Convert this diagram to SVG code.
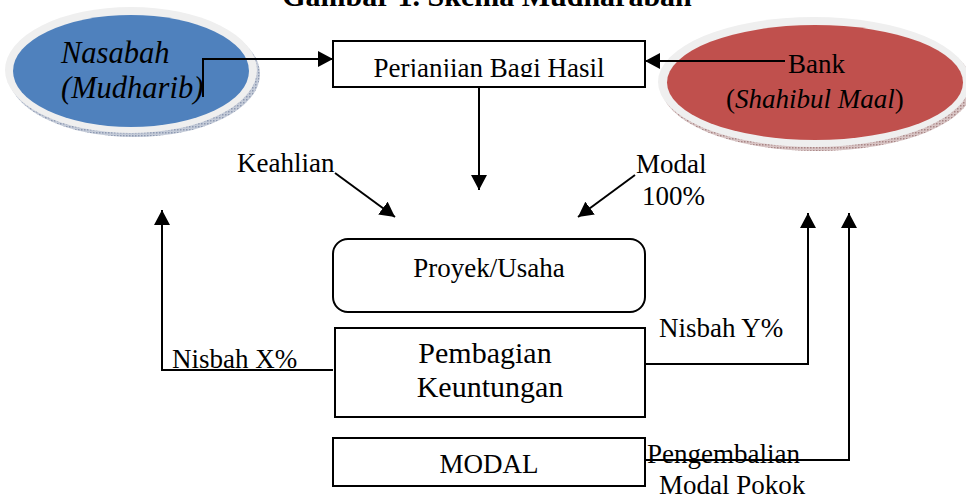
<svg xmlns="http://www.w3.org/2000/svg" width="966" height="498" viewBox="0 0 966 498">
<style>
text{font-family:"Liberation Serif","Times New Roman",serif;fill:#000;}
.t{font-size:27px;}
.i{font-style:italic;}
.box{fill:#fff;stroke:#000;stroke-width:2;}
.ln{fill:none;stroke:#000;stroke-width:2;}
</style>
<defs>
<marker id="ah" markerUnits="userSpaceOnUse" markerWidth="16" markerHeight="16" refX="15" refY="8" orient="auto">
<path d="M0,0 L15,8 L0,16 Z" fill="#000"/>
</marker>
<clipPath id="clipP"><rect x="334" y="42" width="310" height="35"/></clipPath>
<pattern id="shB" width="3" height="3" patternUnits="userSpaceOnUse"><rect width="3" height="3" fill="#c4cbd8"/><rect width="1.5" height="1.5" fill="#8e9ab2"/></pattern>
<pattern id="shR" width="3" height="3" patternUnits="userSpaceOnUse"><rect width="3" height="3" fill="#d8c4c4"/><rect width="1.5" height="1.5" fill="#a88686"/></pattern>
</defs>
<rect width="966" height="498" fill="#fff"/>
<text x="487" y="6" font-size="30" font-weight="bold" text-anchor="middle">Gambar 1. Skema Mudharabah</text>

<g id="nasabah">
<ellipse cx="134" cy="74" rx="126" ry="63" fill="url(#shB)"/>
<ellipse cx="131" cy="70" rx="126" ry="63" fill="#efefef"/>
<ellipse cx="131" cy="71" rx="118" ry="56" fill="#4f81bd"/>
<text class="i" x="61" y="63" font-size="30.5">Nasabah</text>
<text class="i" x="61" y="98" font-size="30.5">(Mudharib)</text>
</g>

<g id="bank">
<ellipse cx="817" cy="86" rx="156" ry="65" fill="url(#shR)"/>
<ellipse cx="814" cy="82" rx="156" ry="65" fill="#efefef"/>
<ellipse cx="815" cy="82.5" rx="148" ry="57.5" fill="#c0504d"/>
<text class="t" x="788" y="73">Bank</text>
<text class="t" x="726" y="108">(<tspan class="i">Shahibul Maal</tspan>)</text>
</g>

<g id="perjanjian">
<rect class="box" x="333" y="41" width="312" height="46"/>
<text class="t" x="489" y="77" text-anchor="middle" clip-path="url(#clipP)">Perjanjian Bagi Hasil</text>
</g>

<g id="keahlian"><text class="t" x="237" y="172">Keahlian</text></g>
<g id="modal100">
<text class="t" x="636" y="173">Modal</text>
<text class="t" x="642" y="205">100%</text>
</g>

<g id="proyek">
<rect class="box" x="333" y="239" width="312" height="73" rx="15"/>
<text class="t" x="489" y="277" text-anchor="middle">Proyek/Usaha</text>
</g>

<g id="pembagian">
<rect class="box" x="335" y="328" width="310" height="89"/>
<text x="485" y="363" font-size="30" text-anchor="middle">Pembagian</text>
<text x="490" y="397" font-size="30" text-anchor="middle">Keuntungan</text>
</g>

<g id="modal">
<rect class="box" x="333" y="438" width="312" height="48"/>
<text class="t" x="489" y="473" text-anchor="middle">MODAL</text>
</g>

<g id="connectors">
<path class="ln" d="M203,97 V59 H333" marker-end="url(#ah)"/>
<path class="ln" d="M785,61 H645" marker-end="url(#ah)"/>
<path class="ln" d="M479,87 V190" marker-end="url(#ah)"/>
<path class="ln" d="M335,173 L395,217" marker-end="url(#ah)"/>
<path class="ln" d="M635,175 L578,217" marker-end="url(#ah)"/>
<path class="ln" d="M333,370 H162 V210" marker-end="url(#ah)"/>
<path class="ln" d="M645,364 H808 V213" marker-end="url(#ah)"/>
<path class="ln" d="M645,460 H849 V213" marker-end="url(#ah)"/>
</g>

<g id="labels">
<text class="t" x="172" y="368">Nisbah X%</text>
<text class="t" x="659" y="337">Nisbah Y%</text>
<text class="t" x="647" y="463">Pengembalian</text>
<text class="t" x="659" y="494">Modal Pokok</text>
</g>
</svg>
